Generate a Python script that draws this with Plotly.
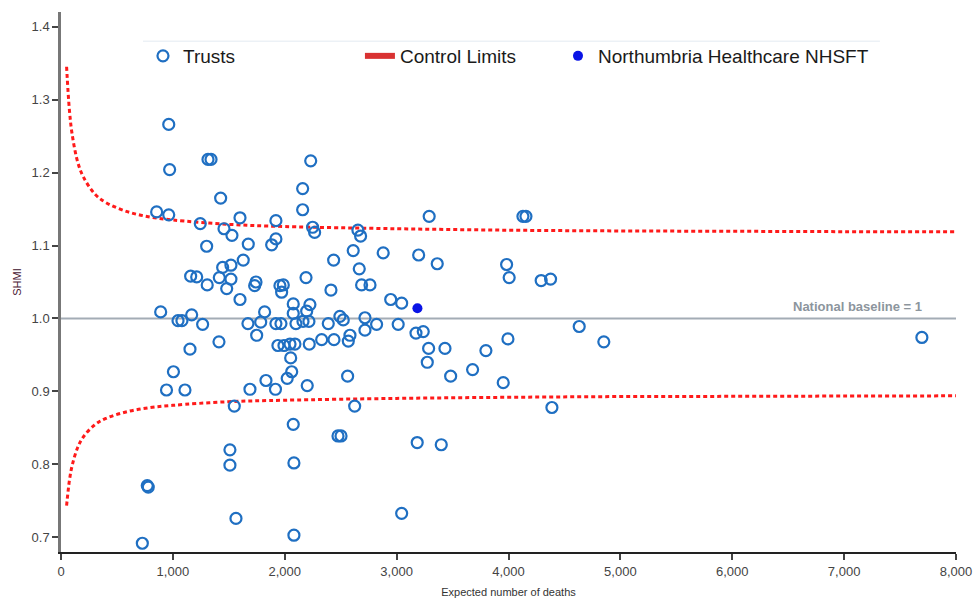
import plotly.graph_objects as go

# ---- Data ----
trust_expected = [
    727, 771, 780, 943, 1005, 891, 963, 971, 855, 963, 1046, 1081, 1108, 1153, 1168, 1159, 1213,
    1245, 1314, 1341, 1427, 1457, 1528, 1600, 1302, 1674, 1629, 1445, 1519, 1415, 1519, 1307, 1481,
    1743, 1731, 1600, 1266, 1412, 1671, 1749, 1785, 1820, 1689, 1832, 1917, 1549, 1510, 1510, 1564,
    1921, 1921, 1883, 1957, 1987, 1972, 1921, 1966, 1939, 1993, 2047, 2091, 2053, 2062, 2022, 2201,
    2562, 2625, 2076, 2476, 2503, 2082, 2082,
    2232, 2160, 2160, 2249, 2267, 2654, 2678, 2612, 2880, 3197, 2437, 2666, 2190, 2687, 2762, 2413,
    2076, 2225, 2947, 3045, 2076, 2196, 2493, 2523, 2717, 2100, 2163, 2216, 2389, 2821, 3014, 2717,
    3173, 3238, 2219, 2330, 2440, 2568, 2583,
    3291, 4129, 4156, 3363, 3983, 4006, 4292, 4376, 3286, 3432, 3798, 3995, 4632, 4852, 3274, 3483,
    3679, 3953, 4388, 3184, 3399, 3045, 7695,
]
trust_shmi = [
    0.692, 0.771, 0.769, 0.902, 0.927, 1.009, 1.266, 1.204, 1.146, 1.142, 0.997, 0.997, 0.902, 0.958, 1.005, 1.058, 1.057,
    1.130, 1.218, 1.218, 1.165, 1.123, 1.114, 1.138, 1.099, 1.102, 1.080, 1.070, 1.073, 1.056, 1.054, 1.046, 1.041,
    1.050, 1.045, 1.026, 0.992, 0.968, 0.993, 0.977, 0.995, 1.009, 0.903, 0.915, 0.903, 0.880, 0.820, 0.799, 0.726,
    1.134, 1.109, 1.101, 1.045, 1.046, 1.036, 0.993, 0.993, 0.963, 0.963, 0.965, 0.965, 0.946, 0.927, 0.918, 0.908,
    0.921, 0.880, 0.855, 0.839, 0.839, 0.802, 0.703,
    1.216, 1.178, 1.149, 1.125, 1.118, 1.121, 1.113, 1.093, 1.090, 1.087, 1.080, 1.068, 1.056, 1.046, 1.046, 1.039,
    1.020, 1.019, 1.026, 1.021, 1.007, 1.010, 1.003, 0.998, 1.001, 0.993, 0.996, 0.996, 0.993, 0.992, 0.992, 0.984,
    0.980, 0.982, 0.965, 0.971, 0.971, 0.969, 0.977,
    1.140, 1.140, 1.140, 1.075, 1.074, 1.056, 1.052, 1.054, 0.959, 0.959, 0.956, 0.972, 0.989, 0.968, 0.940, 0.921,
    0.930, 0.912, 0.878, 0.830, 0.827, 0.733, 0.974,
]

highlight_name = "Northumbria Healthcare NHSFT"
highlight_expected = [3186]
highlight_shmi = [1.014]

limit_expected = [50, 75, 100, 150, 200, 300, 400, 600, 800, 1000, 1500, 2000, 3000, 4000, 5000, 6000, 7000, 8000]
limit_upper = [1.345, 1.286, 1.252, 1.214, 1.194, 1.171, 1.159, 1.146, 1.139, 1.135, 1.129, 1.126, 1.123, 1.121, 1.120, 1.1195, 1.119, 1.1187]
limit_lower = [0.7435, 0.7776, 0.7988, 0.8235, 0.8379, 0.854, 0.863, 0.8726, 0.878, 0.881, 0.886, 0.888, 0.8905, 0.892, 0.893, 0.8933, 0.8937, 0.894]

baseline_value = 1.0
x_ticks = [0, 1000, 2000, 3000, 4000, 5000, 6000, 7000, 8000]
y_ticks = [0.7, 0.8, 0.9, 1.0, 1.1, 1.2, 1.3, 1.4]

# ---- Figure ----
fig = go.Figure()

limit_line = dict(color="#ff1a1a", width=3, dash="4px,3px", shape="spline")
fig.add_trace(go.Scatter(x=limit_expected, y=limit_upper, mode="lines", line=limit_line,
                         showlegend=False, hoverinfo="skip"))
fig.add_trace(go.Scatter(x=limit_expected, y=limit_lower, mode="lines", line=limit_line,
                         showlegend=False, hoverinfo="skip"))

fig.add_trace(go.Scatter(
    x=trust_expected, y=trust_shmi, mode="markers", name="Trusts", legend="legend",
    marker=dict(symbol="circle-open", size=11, color="#1f6fc2", line=dict(width=2.2, color="#1f6fc2")),
))
fig.add_trace(go.Scatter(
    x=[None], y=[None], mode="lines", name="Control Limits", legend="legend2",
    line=dict(color="#d93232", width=6),
))
fig.add_trace(go.Scatter(
    x=highlight_expected, y=highlight_shmi, mode="markers", name=highlight_name, legend="legend3",
    marker=dict(symbol="circle", size=10, color="#0a14e6"),
))

font_family = "Liberation Sans, Arial, sans-serif"
legend_common = dict(
    orientation="h", xanchor="left", y=0.9185, yanchor="middle",
    font=dict(size=19, color="#1a1a1a", family=font_family),
    bgcolor="rgba(255,255,255,0)", itemclick=False, itemdoubleclick=False,
)

fig.update_layout(
    width=976, height=598,
    margin=dict(l=61, r=20, t=12, b=46, autoexpand=False),
    paper_bgcolor="white", plot_bgcolor="white",
    font=dict(family=font_family, color="#333333"),
    legend=dict(x=0.0916, **legend_common),
    legend2=dict(x=0.334, **legend_common),
    legend3=dict(x=0.5553, **legend_common),
    xaxis=dict(
        range=[0, 8000], tickvals=x_ticks, tickformat=",", showgrid=False, zeroline=False,
        showline=True, linecolor="#222222", linewidth=2, ticks="outside", ticklen=6,
        tickcolor="#444444", tickwidth=2, tickfont=dict(size=13, color="#444444"),
        title=dict(text="Expected number of deaths", font=dict(size=11, color="#333333"), standoff=11),
        fixedrange=True, automargin=False,
    ),
    yaxis=dict(
        range=[0.680, 1.420], tickvals=y_ticks, tickformat=".1f", showgrid=False, zeroline=False,
        showline=True, linecolor="#777777", linewidth=2.5, ticks="outside", ticklen=6,
        tickcolor="#444444", tickwidth=2, tickfont=dict(size=13, color="#444444"),
        title=dict(text="SHMI", font=dict(size=11, color="#4b2035"), standoff=8),
        fixedrange=True, automargin=False,
    ),
    shapes=[
        dict(type="line", xref="x", yref="y", x0=0, x1=8000, y0=baseline_value, y1=baseline_value,
             line=dict(color="#a3acb5", width=2), layer="below"),
        dict(type="line", xref="paper", yref="paper", x0=0.0916, x1=0.915, y0=0.946, y1=0.946,
             line=dict(color="#e3eaf1", width=1)),
    ],
    annotations=[
        dict(text="<b>National baseline = 1</b>", xref="paper", yref="y", x=0.964, y=baseline_value,
             xanchor="right", yanchor="bottom", yshift=2, showarrow=False,
             font=dict(size=13, color="#8c959d", family=font_family)),
    ],
)

# remove the default page margin so the 976x598 figure fills the window exactly
fig.write_html(
    "out.html",
    config={"displayModeBar": False},
    post_script="document.body.style.margin='0';document.body.style.overflow='hidden';",
)
